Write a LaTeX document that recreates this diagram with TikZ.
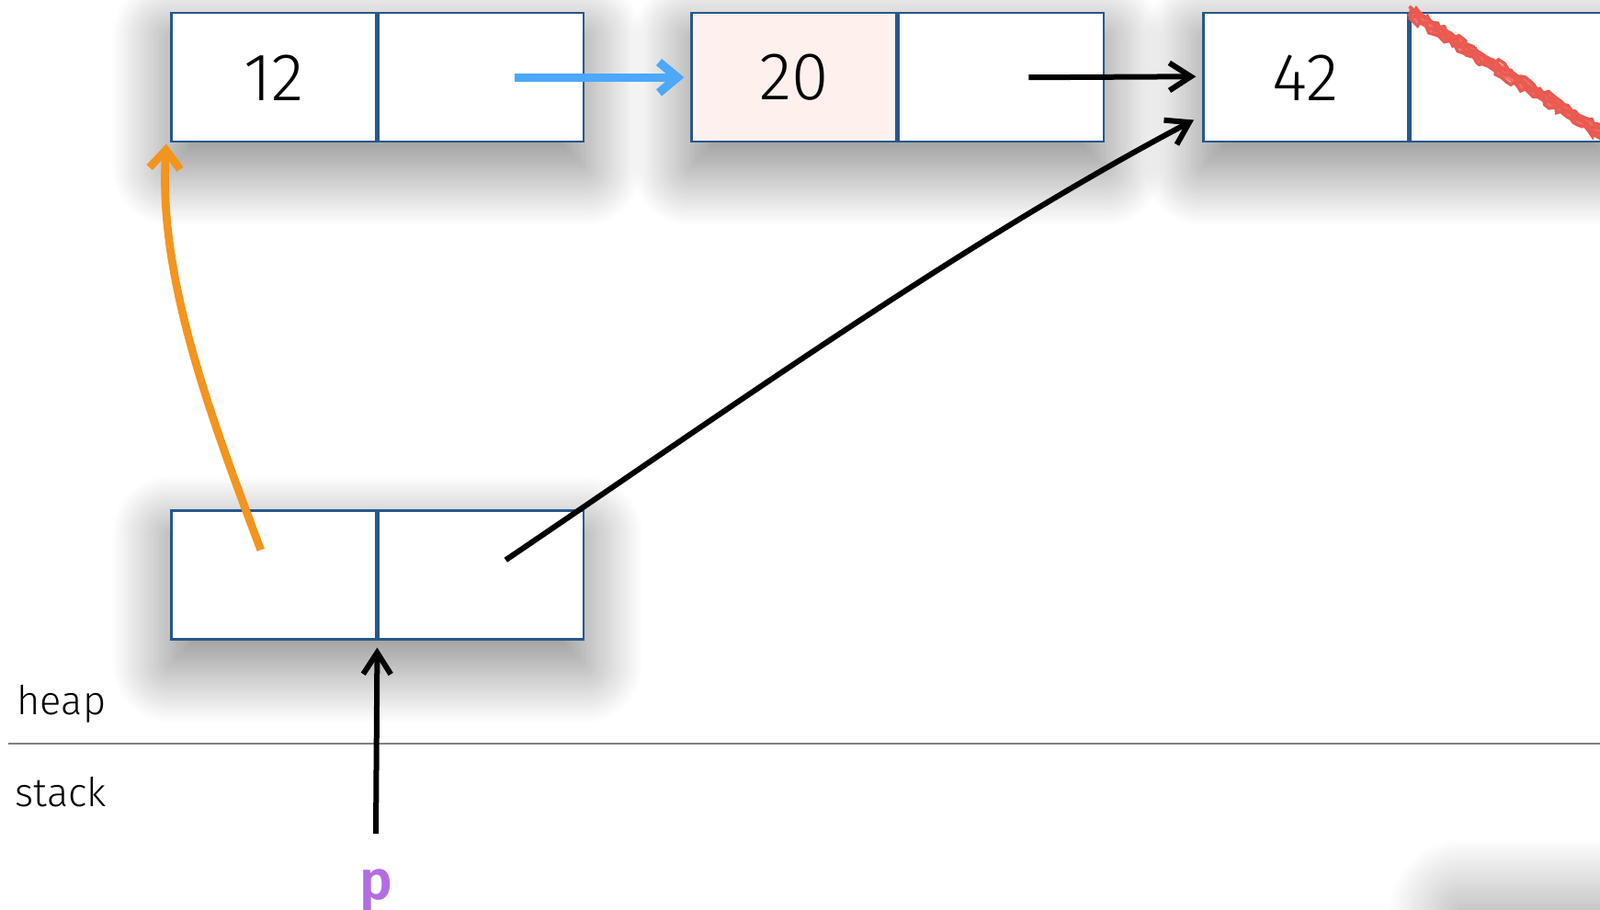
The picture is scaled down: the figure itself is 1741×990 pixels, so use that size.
\documentclass[tikz,border=0pt]{standalone}
\usepackage{fontspec}
\IfFontExistsTF{Fira Sans Light}
  {\setmainfont{Fira Sans Light}[BoldFont=Fira Sans SemiBold]}
  {\setmainfont{Fira Sans}}
\usetikzlibrary{positioning,calc,arrows.meta,shadows.blur,backgrounds,decorations.pathmorphing}
\definecolor{boxblue}{RGB}{38,88,140}
\definecolor{cellpink}{RGB}{253,240,237}
\definecolor{ptrblue}{RGB}{77,167,250}
\definecolor{ptrorange}{RGB}{243,148,30}
\definecolor{varpurple}{RGB}{180,109,224}
\definecolor{crossred}{RGB}{234,90,80}
\tikzset{
  cell/.style={draw=boxblue, line width=0.75pt, fill=white, inner sep=0pt,
    minimum width=223*0.3pt, minimum height=140*0.3pt, font=\fontsize{22}{22}\selectfont},
  boxshadow/.style={fill=white, blur shadow={shadow xshift=0pt, shadow yshift=-8pt,
    shadow blur radius=19pt, shadow blur steps=60, shadow opacity=50}},
  ptr/.style={line width=1.8pt, -{Straight Barb[length=7pt,width=9pt]}},
  crayon/.style={crossred, line width=1.1pt, decorate,
    decoration={random steps, segment length=1.5pt, amplitude=0.9pt}},
  region/.style={font=\fontsize{13}{13}\selectfont, anchor=base west, inner sep=0pt},
}
\begin{document}
\begin{tikzpicture}[x=0.3pt, y=-0.3pt]
\useasboundingbox (0,0) rectangle (1741,990);
% heap nodes
\node[cell, anchor=north west] (n12v) at (185,13) {\raisebox{-1.4pt}{12}};
\node[cell, right=0pt of n12v] (n12p) {};
\node[cell, anchor=north west, fill=cellpink] (n20v) at (751,13) {\raisebox{-1.4pt}{20}};
\node[cell, right=0pt of n20v] (n20p) {};
\node[cell, anchor=north west] (n42v) at (1308,13) {\raisebox{-1.4pt}{42}};
\node[cell, right=0pt of n42v] (n42p) {};
\node[cell, anchor=north west] (pairl) at (185,554) {};
\node[cell, right=0pt of pairl] (pairr) {};
\begin{scope}[on background layer]
\path[boxshadow] (n12v.north west) rectangle (n12p.south east);
\path[boxshadow] (n20v.north west) rectangle (n20p.south east);
\path[boxshadow] (n42v.north west) rectangle (n42p.south east);
\path[boxshadow] (pairl.north west) rectangle (pairr.south east);
\path[blur shadow={shadow xshift=0pt, shadow yshift=-8pt, shadow blur radius=24pt,
  shadow blur steps=60, shadow opacity=45}] (1590,965) rectangle (2200,1400);
\end{scope}
% the null pointer
\draw[crossred, line width=3.2pt, opacity=0.85] (n42p.north west) -- (n42p.south east);
\foreach \off in {-1.8,-0.6,0.6,1.8}
  \draw[crayon] ([yshift=\off pt]n42p.north west) -- ([yshift=\off pt]n42p.south east);
% stack / heap
\draw[gray, line width=0.6pt] (9,809) -- (1741,809);
\node[region] (heap) at (18,777) {heap};
\node[region] (stack) at (16,877) {stack};
\node[anchor=base, inner sep=0pt, text=varpurple, font=\fontsize{18}{18}\selectfont\bfseries] (pvar) at (409,978) {p};
\coordinate (pstart) at (409,907);
% pointers
\draw[ptr, ptrblue, line width=2.8pt, -{Straight Barb[length=6pt,width=10pt]}, shorten >=2pt]
  ($(n12p.center)+(37,0)$) -- (n20v.west);
\draw[ptr, shorten >=2pt] ($(n20p.center)+(30,0)$) -- ($(n42v.west)+(0,-1)$);
\draw[ptr, ptrorange, line width=2.6pt, -{Straight Barb[length=6pt,width=10pt]}]
  ($(pairl.center)+(-14,-27)$)
  .. controls (228,450) and (172,300) .. ($(n12v.south west)+(-4,1)$);
\draw[ptr] ($(pairr.center)+(27,-16)$)
  .. controls (800,440) and (1050,262) .. ($(n42v.south west)+(-9,-25)$);
\draw[ptr, shorten >=2.4pt] (pstart) -- (pairl.south east);
\end{tikzpicture}
\end{document}
